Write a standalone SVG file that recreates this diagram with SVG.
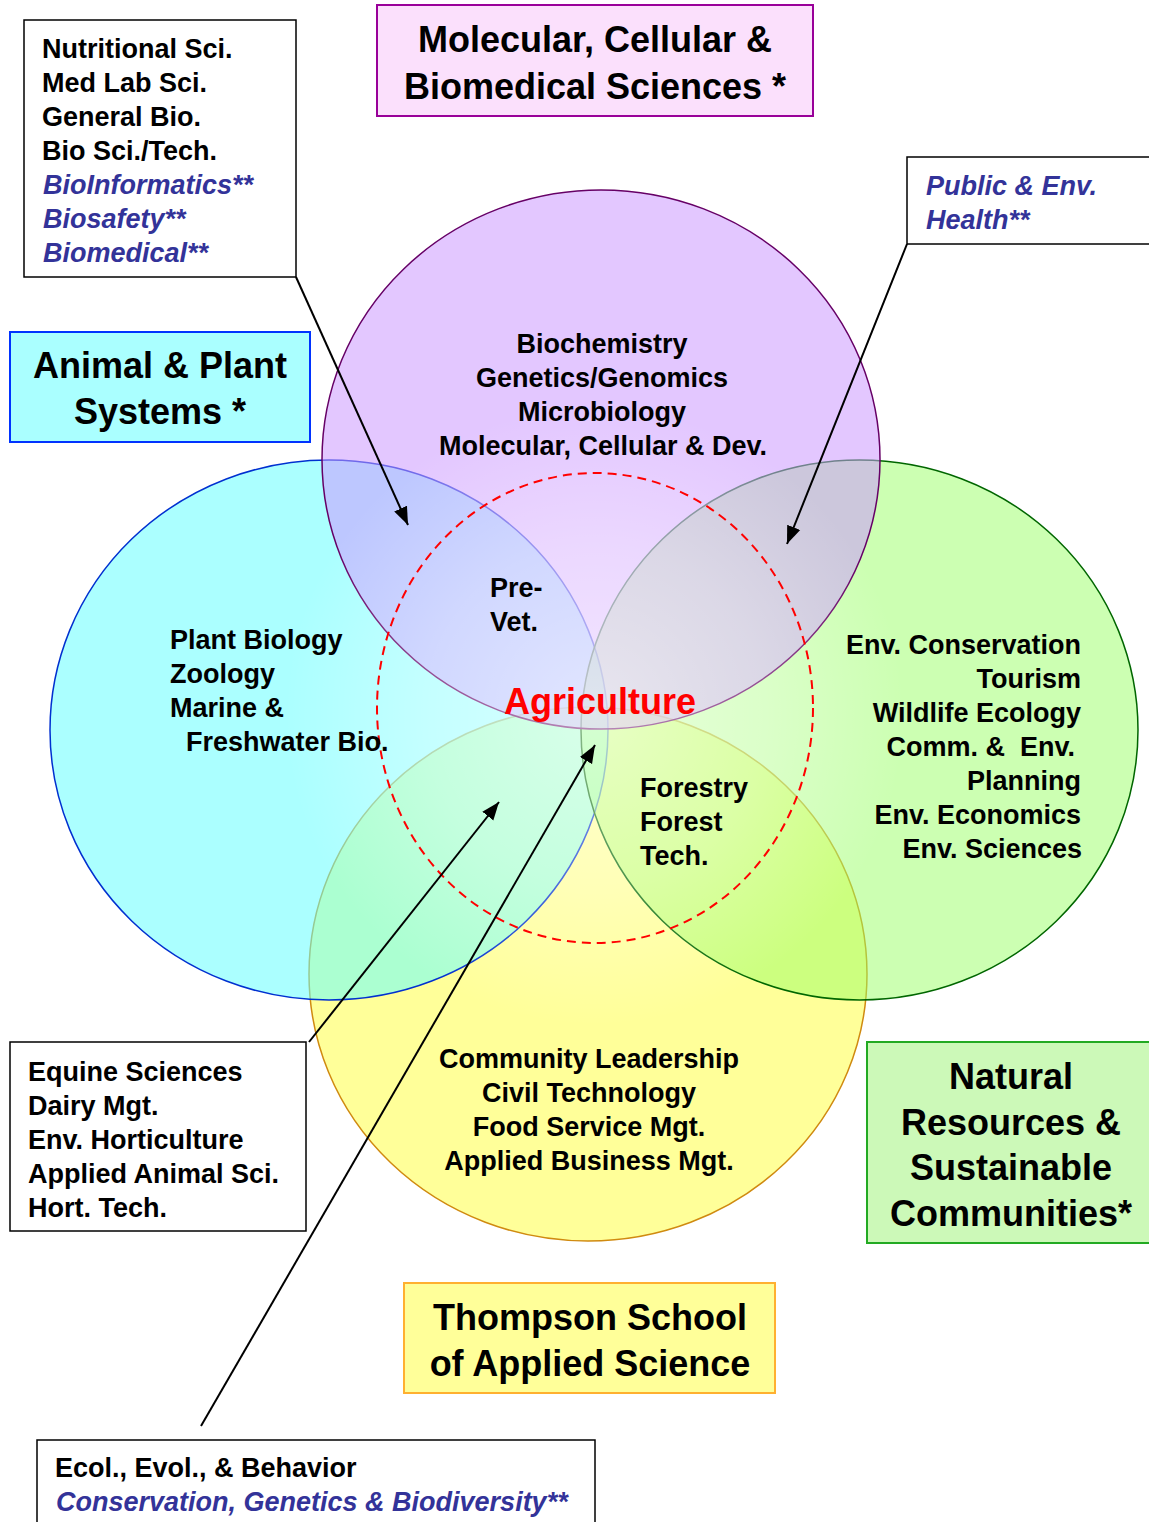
<svg xmlns="http://www.w3.org/2000/svg" width="1149" height="1522" viewBox="0 0 1149 1522">
  <style>
    text { font-family: "Liberation Sans", Arial, sans-serif; font-weight: bold; fill: #000; }
    .item { font-size: 27px; }
    .new { font-size: 27px; font-style: italic; fill: #333399; }
    .title { font-size: 36px; text-anchor: middle; }
    .mid { text-anchor: middle; }
    .end { text-anchor: end; }
    .box { fill: #fff; stroke: #000; stroke-width: 1.5; }
    .conn { stroke: #000; stroke-width: 2; fill: none; marker-end: url(#arrow); }
  </style>
  <defs>
    <marker id="arrow" markerUnits="userSpaceOnUse" markerWidth="20" markerHeight="16" refX="18" refY="8" orient="auto">
      <path d="M0,1 L18,8 L0,15 Z" fill="#000"/>
    </marker>
    <radialGradient id="haze" gradientUnits="userSpaceOnUse" cx="595" cy="715" r="310">
      <stop offset="0" stop-color="#fff" stop-opacity="0.55"/>
      <stop offset="0.55" stop-color="#fff" stop-opacity="0.3"/>
      <stop offset="1" stop-color="#fff" stop-opacity="0"/>
    </radialGradient>
  </defs>
  <rect width="1149" height="1522" fill="#fff"/>

  <!-- the four overlapping fields -->
  <g id="circles">
    <ellipse id="c-tsas" cx="588" cy="974" rx="279" ry="267" fill="#ffff33" fill-opacity="0.5" stroke="#d08a10" stroke-width="1.5"/>
    <ellipse id="c-aps" cx="329" cy="730" rx="279" ry="270" fill="#66ffff" fill-opacity="0.55" stroke="#0030d0" stroke-width="1.5"/>
    <ellipse id="c-nrsc" cx="859.5" cy="730" rx="278.5" ry="270" fill="#99ff66" fill-opacity="0.5" stroke="#006600" stroke-width="1.5"/>
    <ellipse id="c-mcbs" cx="601" cy="459.5" rx="279" ry="269.5" fill="#cc99ff" fill-opacity="0.55" stroke="#660066" stroke-width="1.5"/>
    <rect x="250" y="380" width="700" height="680" fill="url(#haze)"/>
    <ellipse id="c-agr" cx="595" cy="708" rx="218" ry="235" fill="none" stroke="#ff0000" stroke-width="2" stroke-dasharray="9 6"/>
  </g>

  <!-- college title boxes -->
  <g id="mcbs-title">
    <rect x="377" y="5" width="436" height="111" fill="#fbe0fc" stroke="#990099" stroke-width="2"/>
    <text class="title" x="595" y="52">Molecular, Cellular &amp;</text>
    <text class="title" x="595" y="99">Biomedical Sciences *</text>
  </g>
  <g id="aps-title">
    <rect x="10" y="332" width="300" height="110" fill="#aaffff" stroke="#0033ff" stroke-width="2"/>
    <text class="title" x="160" y="378">Animal &amp; Plant</text>
    <text class="title" x="160" y="424">Systems *</text>
  </g>
  <g id="nrsc-title">
    <rect x="867" y="1042" width="290" height="201" fill="#ccf9b8" stroke="#22aa22" stroke-width="2"/>
    <text class="title" x="1011" y="1089">Natural</text>
    <text class="title" x="1011" y="1135">Resources &amp;</text>
    <text class="title" x="1011" y="1180">Sustainable</text>
    <text class="title" x="1011" y="1226">Communities*</text>
  </g>
  <g id="tsas-title">
    <rect x="404" y="1283" width="371" height="110" fill="#ffff99" stroke="#ffb030" stroke-width="2"/>
    <text class="title" x="590" y="1330">Thompson School</text>
    <text class="title" x="590" y="1376">of Applied Science</text>
  </g>

  <!-- program lists inside the fields -->
  <g id="mcbs-programs" class="mid">
    <text class="item mid" x="602" y="353">Biochemistry</text>
    <text class="item mid" x="602" y="387">Genetics/Genomics</text>
    <text class="item mid" x="602" y="421">Microbiology</text>
    <text class="item mid" x="603" y="455">Molecular, Cellular &amp; Dev.</text>
  </g>
  <g id="aps-programs">
    <text class="item" x="170" y="649">Plant Biology</text>
    <text class="item" x="170" y="683">Zoology</text>
    <text class="item" x="170" y="717">Marine &amp;</text>
    <text class="item" x="186" y="751">Freshwater Bio.</text>
  </g>
  <g id="prevet">
    <text class="item" x="490" y="597">Pre-</text>
    <text class="item" x="490" y="631">Vet.</text>
  </g>
  <g id="agriculture">
    <text x="600" y="714" class="mid" style="font-size:36px;fill:#ff0000">Agriculture</text>
  </g>
  <g id="nrsc-programs">
    <text class="item end" x="1081" y="654">Env. Conservation</text>
    <text class="item end" x="1081" y="688">Tourism</text>
    <text class="item end" x="1081" y="722">Wildlife Ecology</text>
    <text class="item end" x="1075" y="756" xml:space="preserve">Comm. &amp;  Env.</text>
    <text class="item end" x="1081" y="790">Planning</text>
    <text class="item end" x="1081" y="824">Env. Economics</text>
    <text class="item end" x="1082" y="858">Env. Sciences</text>
  </g>
  <g id="forestry">
    <text class="item" x="640" y="797">Forestry</text>
    <text class="item" x="640" y="831">Forest</text>
    <text class="item" x="640" y="865">Tech.</text>
  </g>
  <g id="tsas-programs">
    <text class="item mid" x="589" y="1068">Community Leadership</text>
    <text class="item mid" x="589" y="1102">Civil Technology</text>
    <text class="item mid" x="589" y="1136">Food Service Mgt.</text>
    <text class="item mid" x="589" y="1170">Applied Business Mgt.</text>
  </g>

  <!-- callout boxes -->
  <g id="biosci-box">
    <rect class="box" x="24" y="20" width="272" height="257"/>
    <text class="item" x="42" y="58">Nutritional Sci.</text>
    <text class="item" x="42" y="92">Med Lab Sci.</text>
    <text class="item" x="42" y="126">General Bio.</text>
    <text class="item" x="42" y="160">Bio Sci./Tech.</text>
    <text class="new" x="43" y="194">BioInformatics**</text>
    <text class="new" x="43" y="228">Biosafety**</text>
    <text class="new" x="43" y="262">Biomedical**</text>
  </g>
  <g id="health-box">
    <rect class="box" x="907" y="157" width="260" height="87"/>
    <text class="new" x="926" y="195">Public &amp; Env.</text>
    <text class="new" x="926" y="229">Health**</text>
  </g>
  <g id="applied-box">
    <rect class="box" x="10" y="1042" width="296" height="189"/>
    <text class="item" x="28" y="1081">Equine Sciences</text>
    <text class="item" x="28" y="1115">Dairy Mgt.</text>
    <text class="item" x="28" y="1149">Env. Horticulture</text>
    <text class="item" x="28" y="1183">Applied Animal Sci.</text>
    <text class="item" x="28" y="1217">Hort. Tech.</text>
  </g>
  <g id="ecology-box">
    <rect class="box" x="37" y="1440" width="558" height="100"/>
    <text class="item" x="55" y="1477">Ecol., Evol., &amp; Behavior</text>
    <text class="new" x="56" y="1511">Conservation, Genetics &amp; Biodiversity**</text>
  </g>

  <!-- pointers from callouts into the overlaps -->
  <g id="connectors">
    <line class="conn" x1="296" y1="277" x2="408" y2="525"/>
    <line class="conn" x1="907" y1="244" x2="787" y2="544"/>
    <line class="conn" x1="309" y1="1042" x2="499" y2="802"/>
    <line class="conn" x1="201" y1="1426" x2="595" y2="745"/>
  </g>
</svg>
